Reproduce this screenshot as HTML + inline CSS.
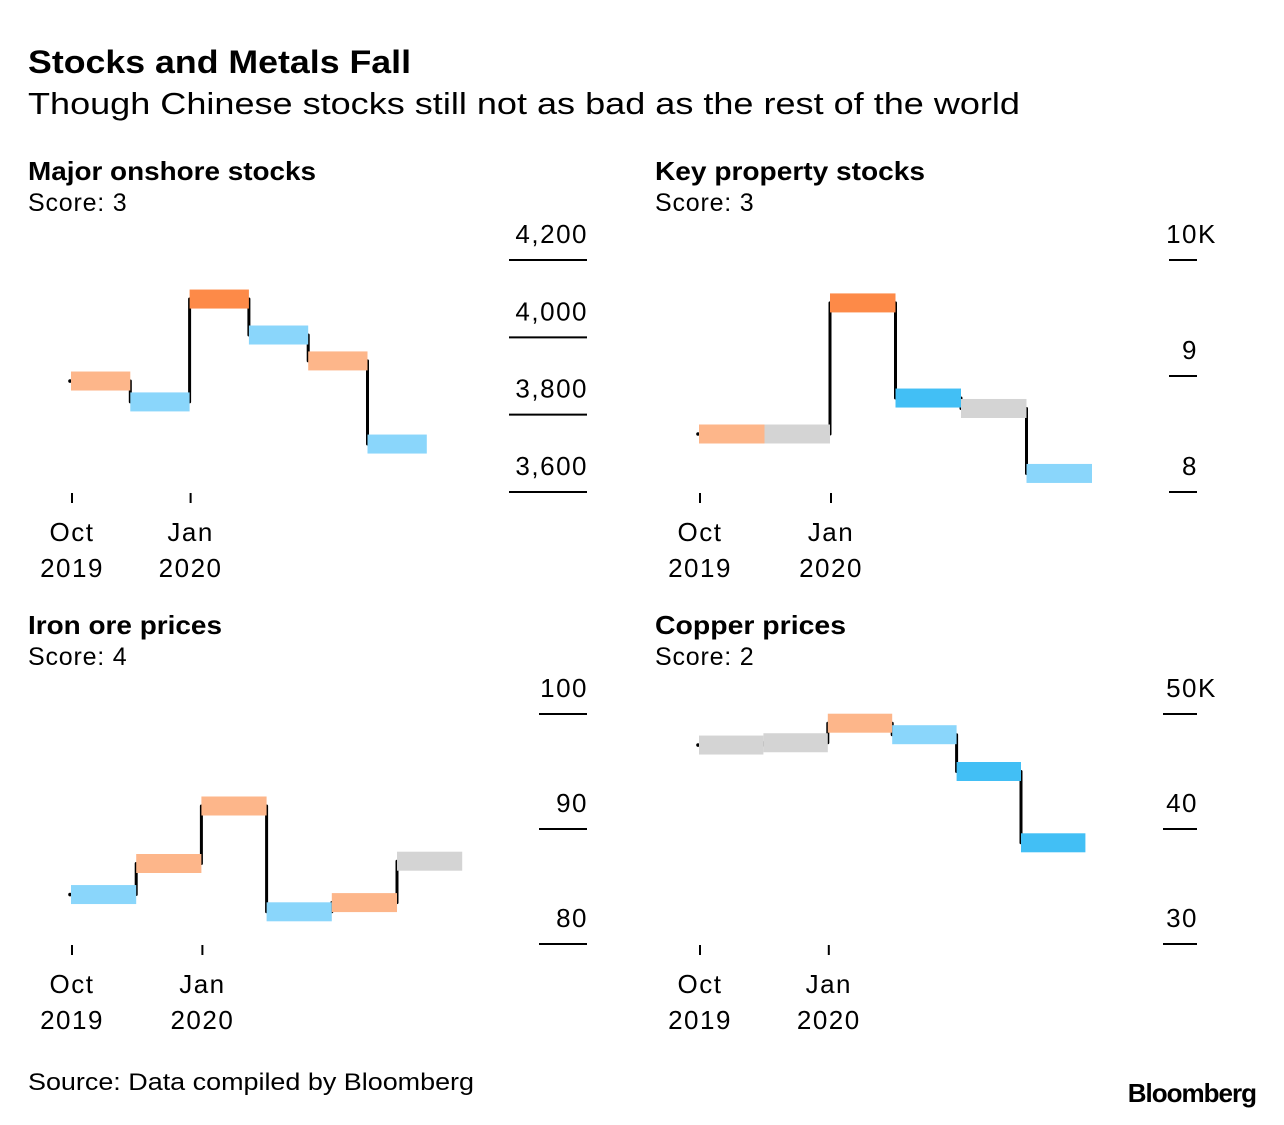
<!DOCTYPE html>
<html><head><meta charset="utf-8"><style>
body{margin:0;background:#fff;}
svg text{font-family:"Liberation Sans",Arial,sans-serif;fill:#000;}
</style></head><body>
<svg id="s" width="1284" height="1120" xmlns="http://www.w3.org/2000/svg">
<text x="28" y="73" font-size="32" font-weight="bold" textLength="383" lengthAdjust="spacingAndGlyphs">Stocks and Metals Fall</text>
<text x="28" y="114" font-size="31" textLength="992" lengthAdjust="spacingAndGlyphs">Though Chinese stocks still not as bad as the rest of the world</text>
<text x="28" y="1090" font-size="24" textLength="446" lengthAdjust="spacingAndGlyphs">Source: Data compiled by Bloomberg</text>
<text x="1256" y="1102" font-size="26" font-weight="bold" text-anchor="end" letter-spacing="-1">Bloomberg</text>
</svg>
<script>
// Panel data
const titles = ["Major onshore stocks","Key property stocks","Iron ore prices","Copper prices"];
const titleWidths = [288,270,194,191];
const scores = [3,3,4,2];
const onshoreValues = [3887,3833,4099,4006,3939,3724];
const onshoreColors = ["lo","lb","o","lb","lo","lb"];
const onshoreTicks = [4200,4000,3800,3600];
const onshoreTickLabels = ["4,200","4,000","3,800","3,600"];
const propertyValues = [8.5,8.5,9.63,8.81,8.72,8.16];
const propertyColors = ["lo","g","o","b","g","lb"];
const propertyTicks = [10,9,8];
const propertyTickLabels = ["10K","9","8"];
const ironValues = [84.3,87.0,92.0,82.8,83.6,87.2];
const ironColors = ["lb","lo","lo","lb","lo","g"];
const ironTicks = [100,90,80];
const ironTickLabels = ["100","90","80"];
const copperValues = [47.3,47.5,49.2,48.2,45.0,38.8];
const copperColors = ["g","g","lo","lb","b","b"];
const copperTicks = [50,40,30];
const copperTickLabels = ["50K","40","30"];
const xTickLabels = [["Oct","2019"],["Jan","2020"]];
const xTickIndex = [0,2];

const palette={lo:"#fdb68a",o:"#fd8a48",lb:"#8ad6fb",b:"#42bff5",g:"#d4d4d4"};
const NS="http://www.w3.org/2000/svg";
const svg=document.getElementById('s');
function mk(tag,attrs,parent){const e=document.createElementNS(NS,tag);for(const k in attrs)e.setAttribute(k,attrs[k]);(parent||svg).appendChild(e);return e;}

const layouts=[
 {tx:28,ty:180,x0:71,bw:59.3,v0:4200,y0:260,v1:3600,y1:492,lx0:509,lx1:587,axisY:493},
 {tx:655,ty:180,x0:699,bw:65.5,v0:10,y0:260,v1:8,y1:492,lx0:1169,lx1:1197,axisY:493},
 {tx:28,ty:634,x0:71,bw:65.2,v0:100,y0:714,v1:80,y1:944,lx0:539,lx1:587,axisY:945},
 {tx:655,ty:634,x0:699,bw:64.4,v0:50,y0:714,v1:30,y1:944,lx0:1163,lx1:1197,axisY:945}
];
const allValues=[onshoreValues,propertyValues,ironValues,copperValues];
const allColors=[onshoreColors,propertyColors,ironColors,copperColors];
const allTicks=[onshoreTicks,propertyTicks,ironTicks,copperTicks];
const allTickLabels=[onshoreTickLabels,propertyTickLabels,ironTickLabels,copperTickLabels];

layouts.forEach((L,p)=>{
  const g=mk('g',{});
  
  
  const y=v=>L.y0+(v-L.v0)*(L.y1-L.y0)/(L.v1-L.v0);
  const x=i=>L.x0+i*L.bw;
  const t=mk('text',{x:L.tx,y:L.ty,'font-size':26,'font-weight':'bold',textLength:titleWidths[p],lengthAdjust:'spacingAndGlyphs'},g);t.textContent=titles[p];
  
  
  const sc=mk('text',{x:L.tx,y:L.ty+31,'font-size':25,'letter-spacing':0.8},g);sc.textContent='Score: '+scores[p];
  
  
  allTicks[p].forEach((tv,i)=>{
    const ly=y(tv);
    const ln=mk('line',{x1:L.lx0,x2:L.lx1,y1:ly,y2:ly,stroke:'#000','stroke-width':2},g);
    
    
    let lab=allTickLabels[p][i];let k=lab.endsWith('K');
    const tx=mk('text',{x:L.lx1+1,y:ly-17,'font-size':26,'text-anchor':'end','letter-spacing':1.5},g);
    tx.textContent=k?lab.slice(0,-1):lab;
    
    
    if(k){const kt=mk('text',{x:L.lx1+1,y:ly-17,'font-size':26},g);kt.textContent='K';
      
      }
  });
  xTickIndex.forEach((xi,i)=>{
    const xx=x(xi)+1;
    const tk=mk('line',{x1:xx,x2:xx,y1:L.axisY,y2:L.axisY+10,stroke:'#000','stroke-width':2},g);
    
    
    xTickLabels[i].forEach((s,j)=>{
      const tt=mk('text',{x:xx,y:L.axisY+48+j*36,'font-size':26,'text-anchor':'middle','letter-spacing':1.5},g);tt.textContent=s;
      
      
    });
  });
  const vals=allValues[p];
  mk('circle',{cx:x(0)-1,cy:y(vals[0]),r:1.8,fill:'#000'},g);
  for(let i=1;i<vals.length;i++){
    const c=mk('line',{x1:x(i),x2:x(i),y1:y(vals[i-1]),y2:y(vals[i]),stroke:'#000','stroke-width':3,'stroke-linecap':'round'},g);
    
    
  }
  vals.forEach((v,i)=>{
    const r=mk('rect',{x:x(i),y:y(v)-9.5,width:L.bw,height:19,fill:palette[allColors[p][i]]},g);
    
    
  });
});
</script>
</body></html>
